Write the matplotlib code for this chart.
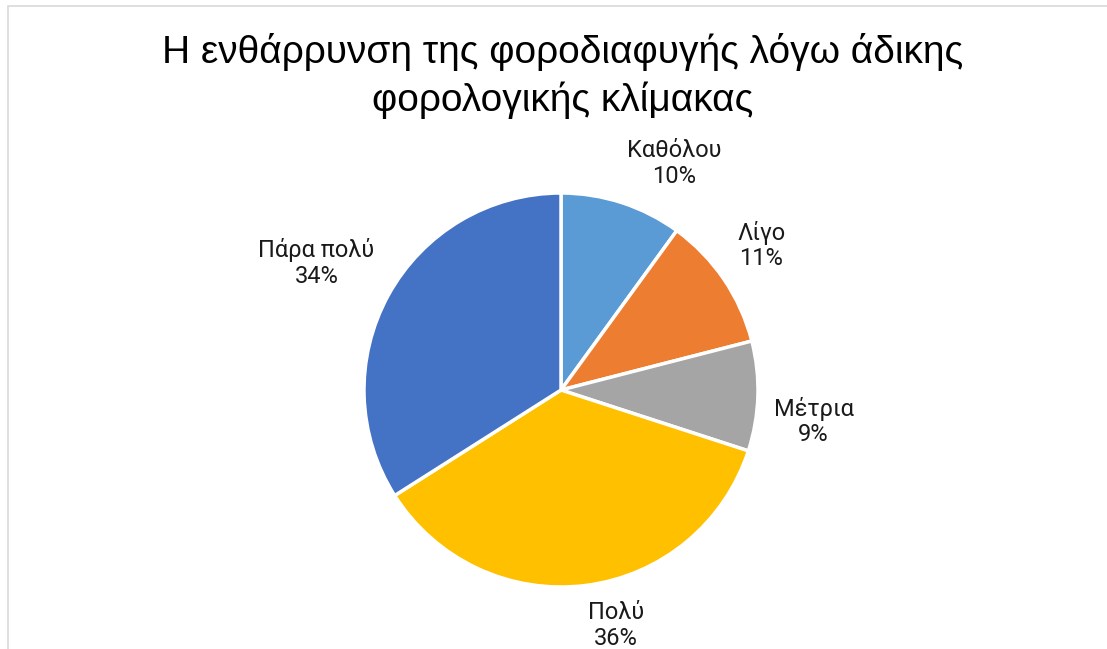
import numpy as np
import matplotlib.pyplot as plt
from matplotlib.patches import Rectangle

plt.rcParams['font.family'] = ['Roboto', 'DejaVu Sans']

# δεδομένα
categories = ['Καθόλου', 'Λίγο', 'Μέτρια', 'Πολύ', 'Πάρα πολύ']
values = [10, 11, 9, 36, 34]
colors = ['#5B9BD5', '#ED7D31', '#A5A5A5', '#FFC000', '#4472C4']
title = 'Η ενθάρρυνση της φοροδιαφυγής λόγω άδικης\nφορολογικής κλίμακας'

W, H = 1107, 649
fig = plt.figure(figsize=(W / 100, H / 100), dpi=100)

# πλαίσιο γραφήματος (η δεξιά και η κάτω πλευρά πέφτουν έξω από την εικόνα)
fig.patches.append(Rectangle((8 / W, -0.1), 1.2, 1.1 - 6 / H,
                             transform=fig.transFigure, fill=False,
                             edgecolor='#D9D9D9', linewidth=1.2))

cx, cy, r = 561, 390, 197
ax = fig.add_axes([(cx - r) / W, (H - cy - r) / H, 2 * r / W, 2 * r / H])

labels = [f'{c}\n{v}%' for c, v in zip(categories, values)]
wedges, texts = ax.pie(values, labels=labels, colors=colors, startangle=90,
                       counterclock=False, labeldistance=1.08,
                       wedgeprops=dict(edgecolor='white', linewidth=2.5),
                       textprops=dict(fontsize=17, color='#1a1a1a',
                                      multialignment='center', linespacing=1.15))
for t in texts:
    x, y = t.get_position()
    t.set_va('bottom' if y > 0 else 'top')
    t.set_ha('left' if x > 0 else 'right')
ax.set_xlim(-1, 1)
ax.set_ylim(-1, 1)
ax.set_aspect('equal')
ax.axis('off')

fig.text(563 / W, 1 - 33 / H, title, ha='center', va='top', fontsize=28,
         family=['Liberation Sans', 'DejaVu Sans'], color='black', linespacing=1.35)

fig.savefig('out.png', dpi=100)
